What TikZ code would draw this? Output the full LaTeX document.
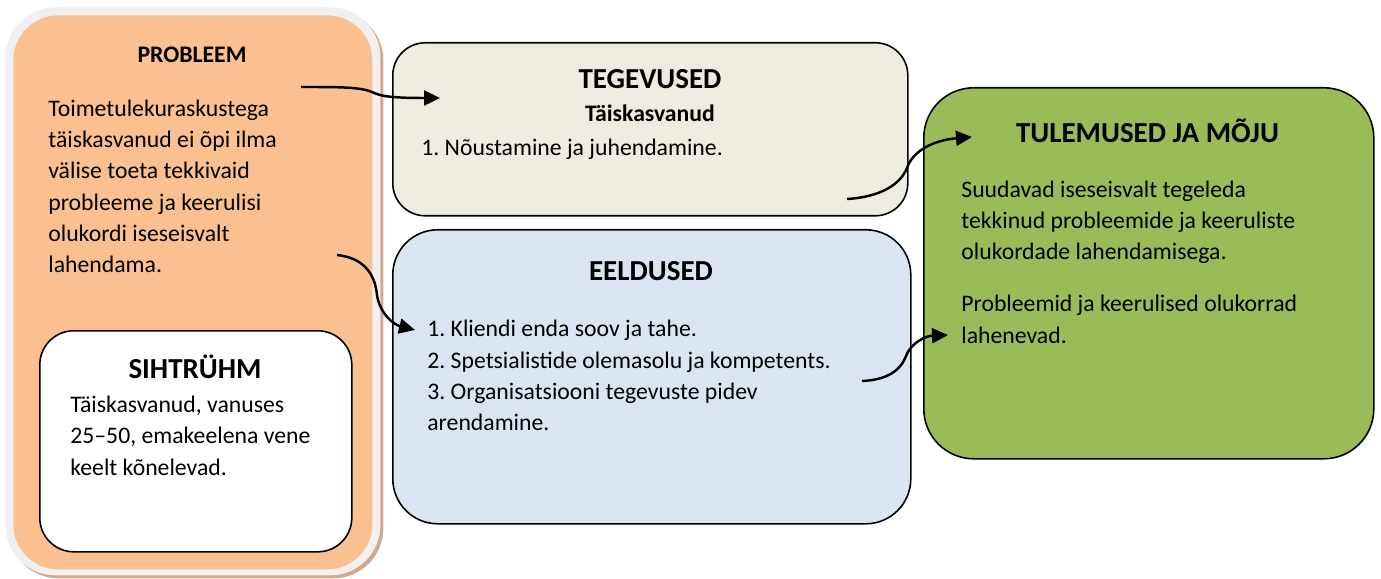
\documentclass[tikz,border=0pt]{standalone}
\usepackage{fontspec}
\setmainfont{Carlito}
\usepackage{xcolor}
\usepackage{tikz}
\usetikzlibrary{positioning,calc,arrows.meta}
\definecolor{ProbOrange}{HTML}{FAC090}
\definecolor{RimGray}{HTML}{F0F0F0}
\definecolor{ShadowTan}{HTML}{D2A98C}
\definecolor{TegBeige}{HTML}{EEECE1}
\definecolor{EelBlue}{HTML}{DBE5F1}
\definecolor{TulGreen}{HTML}{9BBB59}
\frenchspacing

\begin{document}
\begin{tikzpicture}[
                % Kastid ja tekstid
                box/.style={draw=black, line width=0.9pt, rounded corners=#1, inner sep=0pt, anchor=north west},
                plate/.style={rounded corners=#1, inner sep=0pt, anchor=north west},
                title/.style={anchor=base, inner sep=0pt, font=\fontsize{16.5}{20}\selectfont\bfseries},
                subtitle/.style={anchor=base, inner sep=0pt, font=\fontsize{13.5}{17.75}\selectfont\bfseries},
                body/.style={anchor=base west, align=left, inner sep=0pt, font=\fontsize{13.5}{17.75}\selectfont},
                arrow/.style={-{Triangle[length=0.32cm, width=0.30cm]}, line width=1.4pt, draw=black}
            ]
                \useasboundingbox (0,0) rectangle (27.62,-11.58);

                % Probleem (suur kast)
                \node[plate=1.0cm, fill=ShadowTan, minimum width=7.50cm, minimum height=11.36cm] (probShadow) at (0.16,-0.20) {};
                \node[plate=1.0cm, fill=RimGray, minimum width=7.50cm, minimum height=11.36cm] (probRim) at (0.10,-0.14) {};
                \node[plate=0.9cm, fill=ProbOrange, minimum width=7.18cm, minimum height=11.08cm] (prob) at (0.26,-0.30) {};
                \node[subtitle] (probTitle) at (3.84,-1.26) {PROBLEEM};
                % mitmerealise teksti base = viimase rea alusjoon
                \node[body] (probText) at (0.96,-5.45) {Toimetulekuraskustega\\täiskasvanud ei õpi ilma\\välise toeta tekkivaid\\probleeme ja keerulisi\\olukordi iseseisvalt\\lahendama.};

                % Sihtrühm
                \node[box=0.68cm, fill=white, minimum width=6.24cm, minimum height=4.42cm] (siht) at (0.78,-6.60) {};
                \node[title] (sihtTitle) at (3.90,-7.56) {SIHTRÜHM};
                \node[body] (sihtText) at (1.40,-9.50) {Täiskasvanud, vanuses\\25--50, emakeelena vene\\keelt kõnelevad.};

                % Tegevused
                \node[box=0.65cm, fill=TegBeige, minimum width=10.30cm, minimum height=3.46cm] (teg) at (7.84,-0.84) {};
                \node[title] (tegTitle) at (13.00,-1.78) {TEGEVUSED};
                \node[subtitle] (tegSub) at (13.00,-2.44) {Täiskasvanud};
                \node[body] (tegText) at (8.42,-3.12) {1. Nõustamine ja juhendamine.};

                % Eeldused
                \node[box=0.9cm, fill=EelBlue, minimum width=10.36cm, minimum height=5.88cm] (eel) at (7.84,-4.58) {};
                \node[title] (eelTitle) at (13.02,-5.62) {EELDUSED};
                \node[body] (eelText) at (8.54,-8.61) {1. Kliendi enda soov ja tahe.\\2. Spetsialistide olemasolu ja kompetents.\\3. Organisatsiooni tegevuste pidev\\arendamine.};

                % Tulemused ja mõju
                \node[box=1.0cm, fill=TulGreen, minimum width=9.00cm, minimum height=7.42cm] (tul) at (18.46,-1.74) {};
                \node[title] (tulTitle) at (22.95,-2.86) {TULEMUSED JA MÕJU};
                \node[body] (tulTextA) at (19.22,-5.20) {Suudavad iseseisvalt tegeleda\\tekkinud probleemide ja keeruliste\\olukordade lahendamisega.};
                \node[body] (tulTextB) at (19.22,-6.86) {Probleemid ja keerulised olukorrad\\lahenevad.};

                % Otspunktid
                \coordinate (probOutA) at (6.02,-1.74);
                \coordinate (tegIn) at (8.80,-1.96);
                \coordinate (probOutB) at (6.74,-5.10);
                \coordinate (eelIn) at (8.30,-6.60);
                \coordinate (tegOut) at (16.94,-3.98);
                \coordinate (tulInA) at (19.44,-2.74);
                \coordinate (eelOut) at (17.24,-7.62);
                \coordinate (tulInB) at (18.96,-6.70);

                % Connectors
                \draw[arrow] (probOutA) .. controls (6.80,-1.74) and (7.20,-1.74) .. (7.44,-1.84) .. controls (7.60,-1.92) and (7.80,-1.96) .. (tegIn);
                \draw[arrow] (probOutB) .. controls (7.30,-5.16) and (7.50,-5.50) .. (7.54,-5.90) .. controls (7.60,-6.30) and (7.90,-6.50) .. (eelIn);
                \draw[arrow] (tegOut) .. controls (17.60,-3.94) and (18.00,-3.70) .. (18.14,-3.36) .. controls (18.26,-3.00) and (18.70,-2.80) .. (tulInA);
                \draw[arrow] (eelOut) .. controls (17.70,-7.60) and (18.00,-7.44) .. (18.12,-7.12) .. controls (18.22,-6.86) and (18.50,-6.72) .. (tulInB);

            \end{tikzpicture}
\end{document}
